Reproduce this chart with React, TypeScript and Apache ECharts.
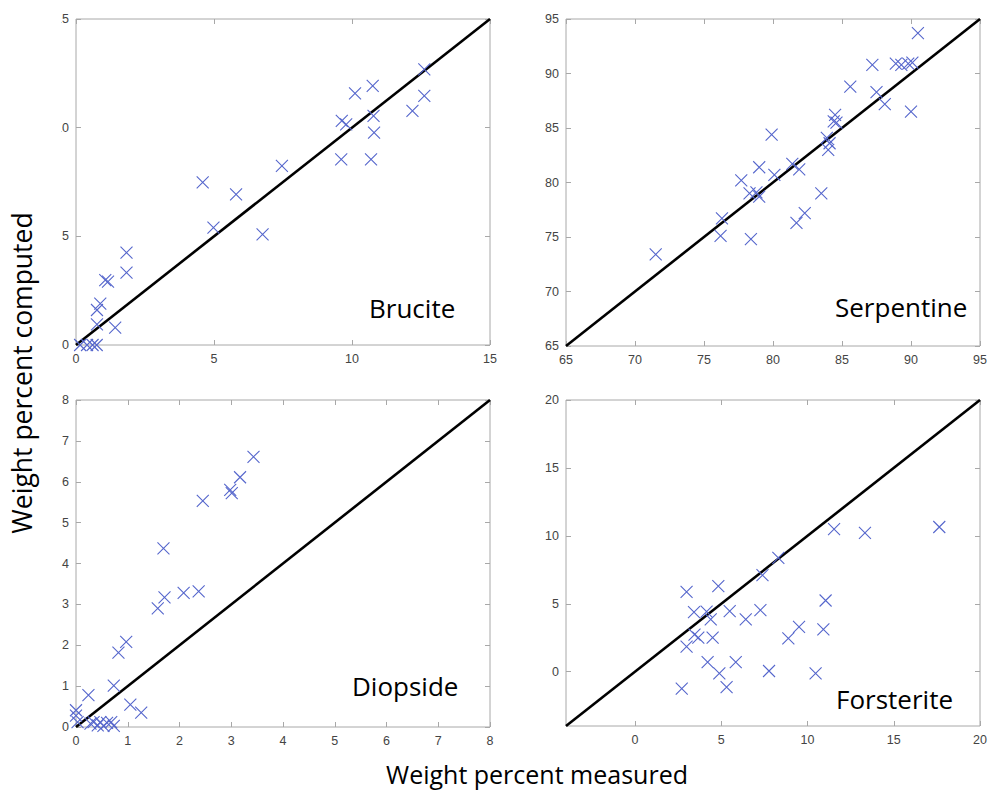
import React, { useEffect, useRef } from "react";
import * as echarts from "echarts";

// ---- Data (weight percent measured, weight percent computed) ----
const bruciteData: number[][] = [
  [0.15, 0], [0.4, 0], [0.6, 0], [0.75, 0], [0.76, 0.95], [1.42, 0.8], [0.76, 1.61], [0.88, 1.9],
  [1.06, 2.98], [1.16, 2.92], [1.83, 3.33], [1.83, 4.25], [4.59, 7.48], [4.98, 5.4], [5.8, 6.93],
  [6.76, 5.09], [7.46, 8.24], [9.61, 8.54], [10.69, 8.54], [9.63, 10.31], [9.79, 10.15], [10.8, 9.77],
  [10.78, 10.54], [10.11, 11.58], [10.75, 11.92], [12.19, 10.77], [12.62, 11.46], [12.62, 12.68],
];
const serpentineData: number[][] = [
  [71.5, 73.4], [76.2, 75.1], [76.3, 76.7], [77.7, 80.2], [78.3, 79.0], [78.4, 74.8], [78.8, 79.1],
  [79.0, 78.7], [79.0, 81.4], [79.9, 84.4], [80.1, 80.7], [81.4, 81.7], [81.7, 76.3], [81.9, 81.2],
  [82.3, 77.2], [83.5, 79.0], [83.9, 84.1], [84.0, 83.0], [84.1, 83.6], [84.4, 85.6], [84.5, 86.2],
  [84.6, 85.5], [85.6, 88.8], [87.2, 90.8], [87.5, 88.3], [88.1, 87.2], [88.9, 90.9], [89.3, 90.8],
  [89.8, 90.9], [90.1, 91.0], [90.0, 86.5], [90.5, 93.7],
];
const diopsideData: number[][] = [
  [0.0, 0.41], [0.0, 0.28], [0.03, 0.12], [0.24, 0.78], [0.28, 0.08], [0.34, 0.12], [0.42, 0.04],
  [0.47, 0.12], [0.53, 0.03], [0.6, 0.1], [0.68, 0.12], [0.73, 0.03], [0.73, 1.01], [0.82, 1.82],
  [0.97, 2.08], [1.05, 0.55], [1.26, 0.35], [1.58, 2.9], [1.69, 4.37], [1.71, 3.17], [2.08, 3.28],
  [2.37, 3.32], [2.45, 5.53], [2.98, 5.8], [3.01, 5.72], [3.17, 6.11], [3.43, 6.61],
];
const forsteriteData: number[][] = [
  [2.71, -1.25], [2.99, 1.84], [2.99, 5.88], [3.42, 4.38], [3.45, 2.72], [3.67, 2.5], [4.15, 4.42],
  [4.21, 0.71], [4.39, 3.85], [4.5, 2.5], [4.83, 6.29], [4.89, -0.12], [5.31, -1.13], [5.49, 4.46],
  [5.84, 0.71], [6.42, 3.85], [7.27, 4.53], [7.39, 7.1], [7.77, 0.05], [8.31, 8.37], [8.89, 2.45],
  [9.51, 3.3], [10.47, -0.12], [10.92, 3.11], [11.05, 5.24], [11.54, 10.5], [13.33, 10.21], [17.64, 10.65],
];

const mineralNames = ["Brucite", "Serpentine", "Diopside", "Forsterite"];
const axisMin = [0, 65, 0, -4];
const axisMax = [15, 95, 8, 20];
const tickValues: number[][] = [
  [0, 5, 10, 15],
  [65, 70, 75, 80, 85, 90, 95],
  [0, 1, 2, 3, 4, 5, 6, 7, 8],
  [0, 5, 10, 15, 20],
];
const xTitle = "Weight percent measured";
const yTitle = "Weight percent computed";

const allData = [bruciteData, serpentineData, diopsideData, forsteriteData];

const gridBoxes = [
  { left: 76, top: 19, width: 414, height: 326 },
  { left: 566, top: 19, width: 414, height: 327 },
  { left: 76, top: 400, width: 414, height: 327 },
  { left: 566, top: 400, width: 414, height: 326 },
];
const titlePos = [
  { x: 369, y: 312 },
  { x: 835, y: 311 },
  { x: 352, y: 690 },
  { x: 836, y: 703 },
];

const MARK = "#5566cc";
const FRAME = "#a8a8a8";
const LABEL = "#444444";
const CROSS = "path://M0,0L12,12M12,0L0,12";

export default function App() {
  const ref = useRef<HTMLDivElement>(null);
  useEffect(() => {
    if (!ref.current) return;
    const chart = echarts.init(ref.current, null, { renderer: "svg" });
    const grid: any[] = [];
    const xAxis: any[] = [];
    const yAxis: any[] = [];
    const series: any[] = [];
    const graphic: any[] = [];

    for (let i = 0; i < 4; i++) {
      grid.push({
        ...gridBoxes[i],
        show: true,
        borderColor: FRAME,
        borderWidth: 1,
        backgroundColor: "#fff",
        containLabel: false,
        outerBoundsMode: "none",
      });
      const common = {
        gridIndex: i,
        type: "value",
        min: axisMin[i],
        max: axisMax[i],
        splitLine: { show: false },
        axisLine: { show: false, onZero: false },
        axisTick: {
          show: true,
          inside: true,
          length: 5,
          lineStyle: { color: FRAME, width: 1 },
          customValues: tickValues[i],
        },
      };
      const lbl = {
        show: true,
        color: LABEL,
        fontSize: 12.5,
        fontFamily: "Liberation Sans, Arial, sans-serif",
        customValues: tickValues[i],
      };
      xAxis.push({ ...common, position: "bottom", axisLabel: { ...lbl, margin: 7 } });
      xAxis.push({ ...common, position: "top", axisLabel: { show: false } });
      yAxis.push({ ...common, position: "left", axisLabel: { ...lbl, margin: 7 } });
      yAxis.push({ ...common, position: "right", axisLabel: { show: false } });

      series.push({
        type: "line",
        xAxisIndex: 2 * i,
        yAxisIndex: 2 * i,
        data: [
          [axisMin[i], axisMin[i]],
          [axisMax[i], axisMax[i]],
        ],
        symbol: "none",
        lineStyle: { color: "#000", width: 2.6 },
        z: 2,
        silent: true,
      });
      series.push({
        type: "scatter",
        xAxisIndex: 2 * i,
        yAxisIndex: 2 * i,
        data: allData[i],
        symbol: CROSS,
        symbolSize: 12,
        itemStyle: { color: MARK, borderColor: MARK, borderWidth: 1.1, opacity: 1 },
        z: 3,
        silent: true,
      });
      graphic.push({
        type: "text",
        left: titlePos[i].x,
        top: titlePos[i].y - 17,
        z: 100,
        style: {
          text: mineralNames[i],
          fontSize: 26,
          fontFamily: "Open Sans, Noto Sans, sans-serif",
          fill: "#000",
        },
      });
    }

    // mask reproducing the clipped left edge of the top-left panel's labels
    graphic.push({
      type: "rect",
      shape: { x: 40, y: 8, width: 21.5, height: 350 },
      style: { fill: "#fff" },
      z: 100,
    });
    graphic.push({
      type: "text",
      x: 537,
      y: 774,
      z: 100,
      style: {
        text: xTitle,
        fontSize: 25,
        fontFamily: "Open Sans, Noto Sans, sans-serif",
        fill: "#000",
        align: "center",
        verticalAlign: "middle",
      },
    });
    graphic.push({
      type: "text",
      x: 22,
      y: 373,
      rotation: Math.PI / 2,
      z: 100,
      style: {
        text: yTitle,
        fontSize: 26.5,
        fontFamily: "Open Sans, Noto Sans, sans-serif",
        fill: "#000",
        align: "center",
        verticalAlign: "middle",
      },
    });

    chart.setOption({
      animation: false,
      backgroundColor: "#fff",
      grid,
      xAxis,
      yAxis,
      series,
      graphic,
    });
    return () => chart.dispose();
  }, []);
  return (
    <div
      ref={ref}
      style={{ position: "absolute", left: 0, top: 0, width: 989, height: 791 }}
    />
  );
}
